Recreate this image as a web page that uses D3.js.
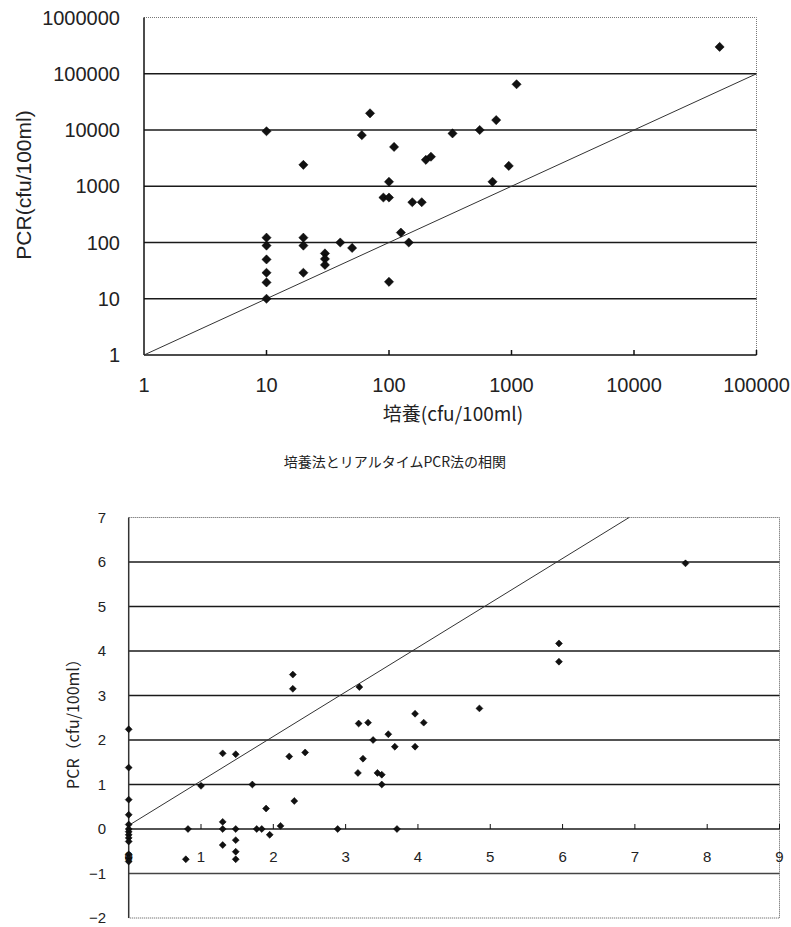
<!DOCTYPE html>
<html>
<head>
<meta charset="utf-8">
<script src="https://cdn.jsdelivr.net/npm/d3@7"></script>
<style>
  body { margin: 0; background: #fff; }
  svg { display: block; }
  text { font-family: "Liberation Sans", Arial, "Noto Sans CJK JP", sans-serif; fill: #222; }
  .jp { font-family: "Noto Sans CJK JP", "Liberation Sans", sans-serif; }
</style>
</head>
<body>
<svg id="chart" width="791" height="927"></svg>
<script>
// top chart: raw cfu values (log-log)
var cultureCfu = [10, 10, 10, 10, 10, 10, 10, 20, 20, 20, 20, 30, 30, 30, 40, 50, 60, 70,
  90, 100, 100, 100, 110, 125, 145, 155, 185, 200, 220, 330, 550, 750, 1100, 950, 700, 50000];
var pcrCfu = [9500, 122, 88, 50, 29, 19.5, 10, 2400, 122, 88, 29, 64, 51, 40, 100, 80, 8100, 19800,
  630, 630, 1200, 20, 5000, 150, 100, 520, 520, 2950, 3350, 8700, 10000, 15000, 65000, 2300, 1200, 300000];

// bottom chart: log values
var logCulture = [0, 0, 0, 0, 0, 0, 0, 0, 0, 0, 0, 0, 0,
  0.82, 0.79, 1.0, 1.3, 1.48, 1.3, 1.3, 1.3, 1.48, 1.48, 1.48, 1.48,
  1.71, 1.9, 1.77, 1.84, 1.95, 2.1, 2.22, 2.44, 2.29, 2.27, 2.27,
  3.19, 3.18, 3.31, 3.38, 3.59, 3.68, 3.96, 4.08, 3.96, 4.85, 3.24, 3.17, 3.44, 3.5, 3.5,
  2.89, 3.71, 5.95, 5.95, 7.7];
var logPcr = [2.24, 1.38, 0.66, 0.32, 0.1, 0, -0.06, -0.13, -0.2, -0.28, -0.57, -0.65, -0.73,
  0, -0.68, 0.97, 1.7, 1.68, 0.16, 0, -0.36, 0, -0.25, -0.51, -0.68,
  1.0, 0.46, 0, 0, -0.13, 0.07, 1.63, 1.72, 0.63, 3.15, 3.47,
  3.19, 2.37, 2.39, 2.0, 2.13, 1.85, 2.59, 2.39, 1.85, 2.71, 1.58, 1.26, 1.26, 1.22, 1.0,
  0, 0, 4.17, 3.76, 5.97];

var topTicks = [1, 10, 100, 1000, 10000, 100000, 1000000];
var topXTicks = [1, 10, 100, 1000, 10000, 100000];
var bottomYTicks = [-2, -1, 0, 1, 2, 3, 4, 5, 6, 7];
var bottomXTicks = [0, 1, 2, 3, 4, 5, 6, 7, 8, 9];

var svg = d3.select("#chart");
var diamond = d3.symbol().type(d3.symbolSquare);

//==========
// top chart
//==========
var x1 = d3.scaleLog().domain([1, 100000]).range([144, 756.5]);
var y1 = d3.scaleLog().domain([1, 1000000]).range([355, 17.5]);
var topG = svg.append("g");

// dotted frame (top / right)
topG.append("path")
  .attr("d", "M" + x1(1) + "," + y1(1e6) + "H" + x1(1e5) + "V" + y1(1))
  .attr("fill", "none").attr("stroke", "#777").attr("stroke-width", 1)
  .attr("stroke-dasharray", "1,1");

topG.append("g").selectAll("line")
  .data(topTicks.filter(function (d) { return d > 1 && d < 1e6; }))
  .enter().append("line")
  .attr("x1", x1(1)).attr("x2", x1(1e5))
  .attr("y1", function (d) { return y1(d); }).attr("y2", function (d) { return y1(d); })
  .attr("stroke", "#1a1a1a").attr("stroke-width", 1.5);

// axes
topG.append("line").attr("x1", x1(1)).attr("x2", x1(1)).attr("y1", y1(1e6)).attr("y2", y1(1))
  .attr("stroke", "#111").attr("stroke-width", 1.5);
topG.append("line").attr("x1", x1(1)).attr("x2", x1(1e5)).attr("y1", y1(1)).attr("y2", y1(1))
  .attr("stroke", "#111").attr("stroke-width", 1.5);
topG.append("g").selectAll("line").data(topXTicks.slice(1))
  .enter().append("line")
  .attr("x1", function (d) { return x1(d); }).attr("x2", function (d) { return x1(d); })
  .attr("y1", y1(1)).attr("y2", y1(1) - 5)
  .attr("stroke", "#111").attr("stroke-width", 1.5);

topG.append("g").selectAll("text").data(topTicks)
  .enter().append("text")
  .attr("x", 120).attr("y", function (d) { return y1(d); })
  .attr("dy", "0.36em").attr("text-anchor", "end")
  .style("font-size", "20px")
  .text(function (d) { return d; });

topG.append("g").selectAll("text").data(topXTicks)
  .enter().append("text")
  .attr("x", function (d) { return x1(d); }).attr("y", 385)
  .attr("dy", "0.36em").attr("text-anchor", "middle")
  .style("font-size", "20px")
  .text(function (d) { return d; });

// y = x line
topG.append("line")
  .attr("x1", x1(1)).attr("y1", y1(1)).attr("x2", x1(1e5)).attr("y2", y1(1e5))
  .attr("stroke", "#333").attr("stroke-width", 1);

topG.append("g").selectAll("path")
  .data(d3.range(cultureCfu.length))
  .enter().append("path")
  .attr("d", diamond.size(42))
  .attr("transform", function (i) {
    return "translate(" + x1(cultureCfu[i]) + "," + y1(pcrCfu[i]) + ") rotate(45)";
  })
  .attr("fill", "#111").attr("stroke", "#000").attr("stroke-width", 0.5);

topG.append("text")
  .attr("transform", "translate(23,185) rotate(-90)")
  .attr("text-anchor", "middle").attr("dy", "0.36em")
  .style("font-size", "21px")
  .text("PCR(cfu/100ml)");

topG.append("text").attr("class", "jp")
  .attr("x", 453).attr("y", 414).attr("dy", "0.36em")
  .attr("text-anchor", "middle")
  .style("font-size", "19px")
  .text("培養(cfu/100ml)");

svg.append("text").attr("class", "jp")
  .attr("x", 395).attr("y", 462).attr("dy", "0.36em")
  .attr("text-anchor", "middle")
  .style("font-size", "14px")
  .text("培養法とリアルタイムPCR法の相関");

//=============
// bottom chart
//=============
var x2 = d3.scaleLinear().domain([0, 9]).range([128.7, 779.5]);
var y2 = d3.scaleLinear().domain([-2, 7]).range([918, 517.5]);
var bot = svg.append("g");

bot.append("path")
  .attr("d", "M" + x2(0) + "," + y2(7) + "H" + x2(9) + "V" + y2(-2) + "H" + x2(0))
  .attr("fill", "none").attr("stroke", "#555").attr("stroke-width", 1)
  .attr("stroke-dasharray", "1,1");

bot.append("g").selectAll("line")
  .data(bottomYTicks.filter(function (d) { return d > -2 && d < 7; }))
  .enter().append("line")
  .attr("x1", x2(0)).attr("x2", x2(9))
  .attr("y1", function (d) { return y2(d); }).attr("y2", function (d) { return y2(d); })
  .attr("stroke", function (d) { return d === -1 ? "#444" : "#1a1a1a"; })
  .attr("stroke-width", 1.5);

bot.append("line").attr("x1", x2(0)).attr("x2", x2(0)).attr("y1", y2(7)).attr("y2", y2(-2))
  .attr("stroke", "#333").attr("stroke-width", 1.5);

bot.append("g").selectAll("line").data(bottomXTicks.slice(1))
  .enter().append("line")
  .attr("x1", function (d) { return x2(d); }).attr("x2", function (d) { return x2(d); })
  .attr("y1", y2(0)).attr("y2", y2(0) - 5)
  .attr("stroke", "#111").attr("stroke-width", 1);

bot.append("g").selectAll("text").data(bottomYTicks)
  .enter().append("text")
  .attr("x", 106).attr("y", function (d) { return y2(d); })
  .attr("dy", "0.36em").attr("text-anchor", "end")
  .style("font-size", "15px")
  .text(function (d) { return d < 0 ? "\u2212" + Math.abs(d) : d; });

bot.append("g").selectAll("text").data(bottomXTicks)
  .enter().append("text")
  .attr("x", function (d) { return x2(d); }).attr("y", 857)
  .attr("dy", "0.36em").attr("text-anchor", "middle")
  .style("font-size", "15px")
  .text(function (d) { return d; });

bot.append("line")
  .attr("x1", x2(0)).attr("y1", y2(0.08)).attr("x2", x2(6.92)).attr("y2", y2(7))
  .attr("stroke", "#333").attr("stroke-width", 1);

bot.append("g").selectAll("path")
  .data(d3.range(logCulture.length))
  .enter().append("path")
  .attr("d", diamond.size(24))
  .attr("transform", function (i) {
    return "translate(" + x2(logCulture[i]) + "," + y2(logPcr[i]) + ") rotate(45)";
  })
  .attr("fill", "#111").attr("stroke", "#000").attr("stroke-width", 0.5);

bot.append("text").attr("class", "jp")
  .attr("transform", "translate(73,720) rotate(-90)")
  .attr("text-anchor", "middle").attr("dy", "0.36em")
  .style("font-size", "16px")
  .text("PCR（cfu/100ml）");
</script>
</body>
</html>
